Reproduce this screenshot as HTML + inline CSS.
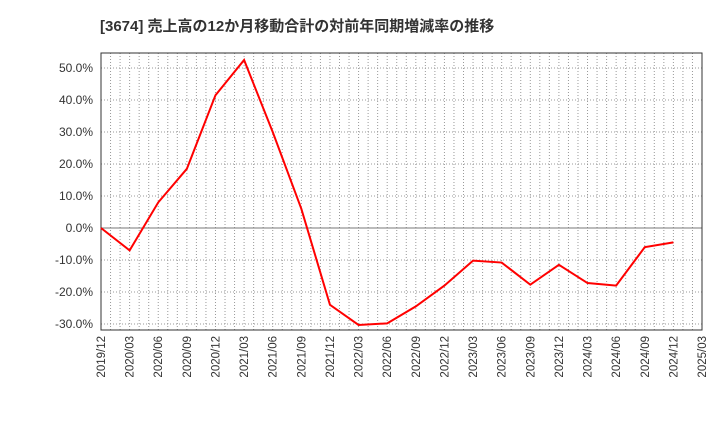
<!DOCTYPE html>
<html><head><meta charset="utf-8"><style>
body{margin:0;background:#fff}
svg text{font-family:"Liberation Sans","Noto Sans CJK JP",sans-serif}
</style></head><body>
<svg id="c" width="720" height="440" xmlns="http://www.w3.org/2000/svg">
<text x="100" y="31" font-size="15" font-weight="bold" fill="#333">[3674]  売上高の12か月移動合計の対前年同期増減率の推移</text>
</svg>
<script>
const categories=["2019/12","2020/03","2020/06","2020/09","2020/12","2021/03","2021/06","2021/09","2021/12","2022/03","2022/06","2022/09","2022/12","2023/03","2023/06","2023/09","2023/12","2024/03","2024/06","2024/09","2024/12","2025/03"];
const values=[0,-7,8,18.5,41.5,52.5,30,6,-24,-30.3,-29.8,-24.5,-18,-10.2,-10.8,-17.7,-11.5,-17.2,-18,-6,-4.5];
const yTicks=[-30,-20,-10,0,10,20,30,40,50];
const L=101,R=702,T=53,B=330;
const svg=document.getElementById('c');const NS="http://www.w3.org/2000/svg";
const xs=i=>L+i*(R-L)/(categories.length-1);
const ys=v=>228-3.2*v;
function mk(t,a,p){const e=document.createElementNS(NS,t);for(const k in a)e.setAttribute(k,a[k]);(p||svg).appendChild(e);return e;}
const g=mk('g',{});


for(let m=1;m<(categories.length-1)*3;m++){const x=L+m*(R-L)/((categories.length-1)*3);mk('line',{x1:x,x2:x,y1:T,y2:B,stroke:'#999','stroke-dasharray':'1,2'},g);}
yTicks.forEach(v=>{const y=ys(v);
mk('line',{x1:L,x2:R,y1:y,y2:y,stroke:v===0?'#777':'#999','stroke-dasharray':v===0?'':'1,2'},g);
const t=mk('text',{x:L-8,y:y+4,'text-anchor':'end','font-size':12,fill:'#333'});t.textContent=v.toFixed(1)+'%';

});
categories.forEach((c,i)=>{const x=xs(i);const t=mk('text',{transform:`translate(${x+4},${B+6}) rotate(-90)`,'text-anchor':'end','font-size':11.5,fill:'#333'});t.textContent=c;

});
const fr=mk('rect',{x:L,y:T,width:R-L,height:B-T,fill:'none',stroke:'#333'});


const line=mk('polyline',{points:values.map((v,i)=>xs(i)+','+ys(v)).join(' '),fill:'none',stroke:'#f00','stroke-width':2});


</script>
</body></html>
